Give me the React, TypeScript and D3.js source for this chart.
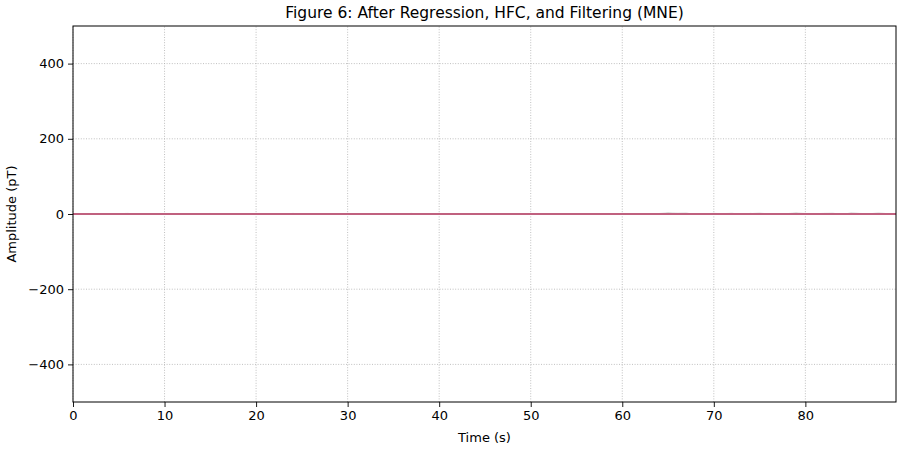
import { useEffect, useRef } from "react";
import * as d3 from "d3";

// one sample per second, values in pT
const SAMPLE_STEP = 1;
const X_MAX = 89.9;
const Y_TICKS = [-400, -200, 0, 200, 400];
const X_TICKS = [0, 10, 20, 30, 40, 50, 60, 70, 80];

const GRAY_VALUES = [
  0.4, -0.6, 0.8, 1.2, -0.4, 0.9, 1.6, -0.8, 0.5, 1.1,
  0.3, -0.5, 0.7, -1.0, 0.6, 1.4, 0.2, 1.3, -0.7, 0.4,
  0.8, -0.3, 1.0, -0.9, 1.5, 0.6, -0.4, 0.9, 0.3, -0.6,
  0.7, 1.2, -0.5, 0.8, -0.3, 1.1, 0.5, 1.6, -0.8, 0.9,
  1.3, -0.4, 0.6, 1.0, -0.7, 1.4, 0.4, -0.5, 0.8, 0.6,
  -0.3, 1.2, 0.9, -0.6, 0.7, 1.0, 0.5, -0.8, 0.6, 1.1,
  -0.4, 0.8, 0.7, -0.5, 1.3, 2.6, 1.9, 2.2, -0.6, 0.9,
  1.5, 1.0, 1.8, -0.7, 1.2, 2.0, 0.6, -0.5, 1.1, 2.4,
  1.3, 0.8, 1.6, 1.9, -0.6, 2.5, 1.4, 0.9, 2.3, 1.0,
  0.7,
];

const GREEN_VALUES = [
  0.2, -0.3, 0.1, 0.4, -0.2, 0.3, 0.5, -0.1, 0.2, 0.3,
  -0.2, 0.1, 0.3, -0.4, 0.2, 0.4, -0.1, 0.3, 0.2, -0.3,
  0.1, 0.4, -0.2, 0.3, 0.5, -0.1, 0.2, 0.3, -0.3, 0.1,
  0.4, -0.2, 0.2, 0.3, -0.1, 0.5, 0.2, -0.3, 0.4, 0.6,
  -0.2, 0.3, 0.1, -0.4, 0.2, 0.5, -0.1, 0.3, 0.2, -0.2,
  0.4, 0.1, -0.3, 0.6, 0.2, -0.1, 0.3, 0.4, -0.2, 0.1,
  0.5, -0.3, 0.2, 0.4, -0.1, 1.8, 0.6, 0.9, -0.2, 0.3,
  1.2, 0.4, 0.7, -0.3, 1.5, 0.5, 0.2, -0.1, 0.8, 1.6,
  0.3, 0.6, 1.1, 0.4, -0.2, 1.4, 0.5, 0.2, 0.9, 0.3,
  0.2,
];

const BLUE_VALUES = [
  -0.2, 0.3, -0.1, 0.2, 0.4, -0.3, 0.1, 0.3, -0.2, 0.1,
  0.3, -0.1, 0.2, 0.4, -0.2, 0.1, 0.3, -0.4, 0.2, 0.1,
  -0.3, 0.2, 0.4, -0.1, 0.2, 0.3, -0.2, 0.1, 0.4, -0.3,
  0.2, 0.1, 0.3, -0.2, 0.4, 0.1, -0.1, 0.3, 0.2, -0.4,
  0.1, 0.3, 0.5, -0.2, 0.1, 0.2, 0.4, -0.3, 0.1, 0.3,
  -0.1, 0.2, 0.4, -0.2, 0.3, 0.1, -0.3, 0.2, 0.4, -0.1,
  0.3, 0.2, -0.2, 0.1, 0.6, 1.2, -0.3, 0.8, 0.4, -0.2,
  0.9, 0.3, 0.6, 1.1, -0.3, 0.7, 0.2, 0.5, -0.2, 1.3,
  0.4, 0.2, 0.8, -0.3, 0.6, 1.0, 0.3, -0.1, 0.7, 0.2,
  0.1,
];

const PINK_VALUES = [
  0.1, -0.1, 0.2, 0.0, -0.2, 0.1, 0.2, -0.1, 0.0, 0.1,
  -0.1, 0.1, 0.0, -0.2, 0.1, 0.2, -0.1, 0.0, 0.1, -0.1,
  0.2, 0.0, -0.1, 0.1, 0.2, -0.1, 0.0, 0.1, -0.2, 0.1,
  0.0, 0.2, -0.1, 0.1, 0.0, -0.1, 0.2, 0.1, -0.2, 0.0,
  0.1, -0.1, 0.2, 0.0, -0.1, 0.1, 0.0, -0.2, 0.1, 0.2,
  -0.1, 0.0, 0.1, -0.1, 0.2, 0.0, -0.1, 0.1, 0.2, -0.1,
  0.0, 0.1, -0.2, 0.1, 0.0, 0.3, 0.1, 0.2, -0.1, 0.1,
  0.2, 0.0, 0.3, -0.1, 0.1, 0.2, 0.0, -0.1, 0.2, 0.3,
  0.1, 0.0, 0.2, 0.1, -0.1, 0.3, 0.1, 0.0, 0.2, 0.1,
  0.0,
];

const CHANNELS = [
  { name: "gray", values: GRAY_VALUES, color: "#9a9a9a", width: 1, opacity: 0.55 },
  { name: "green", values: GREEN_VALUES, color: "#7fb27f", width: 1, opacity: 0.6 },
  { name: "blue", values: BLUE_VALUES, color: "#8a8fd0", width: 1, opacity: 0.6 },
  { name: "pink", values: PINK_VALUES, color: "#c0617f", width: 2, opacity: 1 },
];

export default function App() {
  const svgRef = useRef<SVGSVGElement>(null);

  useEffect(() => {
    if (!svgRef.current) return;
    const width = 900;
    const height = 450;
    const margin = { top: 26, right: 4, bottom: 48, left: 73 };
    const font = "DejaVu Sans, sans-serif";

    const svg = d3.select(svgRef.current);
    svg.selectAll("*").remove();
    svg.attr("width", width).attr("height", height);

    const x = d3.scaleLinear().domain([0, X_MAX]).range([margin.left, width - margin.right]);
    const y = d3.scaleLinear().domain([-500, 500]).range([height - margin.bottom, margin.top]);

    svg.append("rect").attr("width", width).attr("height", height).attr("fill", "#fff");

    // grid
    const grid = svg.append("g").attr("stroke", "#b0b0b0").attr("stroke-width", 0.8).attr("stroke-dasharray", "1,1.6");
    X_TICKS.forEach((t) => {
      grid.append("line").attr("x1", x(t)).attr("x2", x(t)).attr("y1", y(-500)).attr("y2", y(500));
    });
    Y_TICKS.forEach((t) => {
      grid.append("line").attr("x1", x(0)).attr("x2", x(X_MAX)).attr("y1", y(t)).attr("y2", y(t));
    });

    // clip lines to the plot area
    svg.append("clipPath").attr("id", "plot-clip").append("rect")
      .attr("x", x(0)).attr("y", y(500)).attr("width", x(X_MAX) - x(0)).attr("height", y(-500) - y(500));

    const line = d3.line<number>()
      .x((_, i) => x(i * SAMPLE_STEP))
      .y((d) => y(d));

    const lines = svg.append("g").attr("clip-path", "url(#plot-clip)");
    CHANNELS.forEach((ch) => {
      lines.append("path")
        .datum(ch.values)
        .attr("d", line)
        .attr("fill", "none")
        .attr("stroke", ch.color)
        .attr("stroke-width", ch.width)
        .attr("opacity", ch.opacity);
    });

    // axes
    const xAxis = svg.append("g")
      .attr("transform", `translate(0,${height - margin.bottom})`)
      .call(d3.axisBottom(x).tickValues(X_TICKS).tickSize(5).tickPadding(4).tickFormat(d3.format("d")));
    const yAxis = svg.append("g")
      .attr("transform", `translate(${margin.left},0)`)
      .call(d3.axisLeft(y).tickValues(Y_TICKS).tickSize(5).tickPadding(4)
        .tickFormat((d) => String(d).replace("-", "\u2212")));
    [xAxis, yAxis].forEach((a) => {
      a.select(".domain").remove();
      a.selectAll("line").attr("stroke", "#000").attr("stroke-width", 0.9);
      a.selectAll("text").attr("font-family", font).attr("font-size", 13).attr("fill", "#000");
    });

    // frame
    svg.append("rect")
      .attr("x", x(0)).attr("y", y(500))
      .attr("width", x(X_MAX) - x(0)).attr("height", y(-500) - y(500))
      .attr("fill", "none").attr("stroke", "#000").attr("stroke-width", 1);

    svg.append("text")
      .attr("x", (x(0) + x(X_MAX)) / 2).attr("y", 18)
      .attr("text-anchor", "middle").attr("font-family", font).attr("font-size", 15.5)
      .text("Figure 6: After Regression, HFC, and Filtering (MNE)");

    svg.append("text")
      .attr("x", (x(0) + x(X_MAX)) / 2).attr("y", 442)
      .attr("text-anchor", "middle").attr("font-family", font).attr("font-size", 13)
      .text("Time (s)");

    svg.append("text")
      .attr("transform", `translate(16,${y(0)}) rotate(-90)`)
      .attr("text-anchor", "middle").attr("font-family", font).attr("font-size", 13)
      .text("Amplitude (pT)");
  }, []);

  return <svg ref={svgRef} style={{ position: "absolute", left: 0, top: 0 }} />;
}
